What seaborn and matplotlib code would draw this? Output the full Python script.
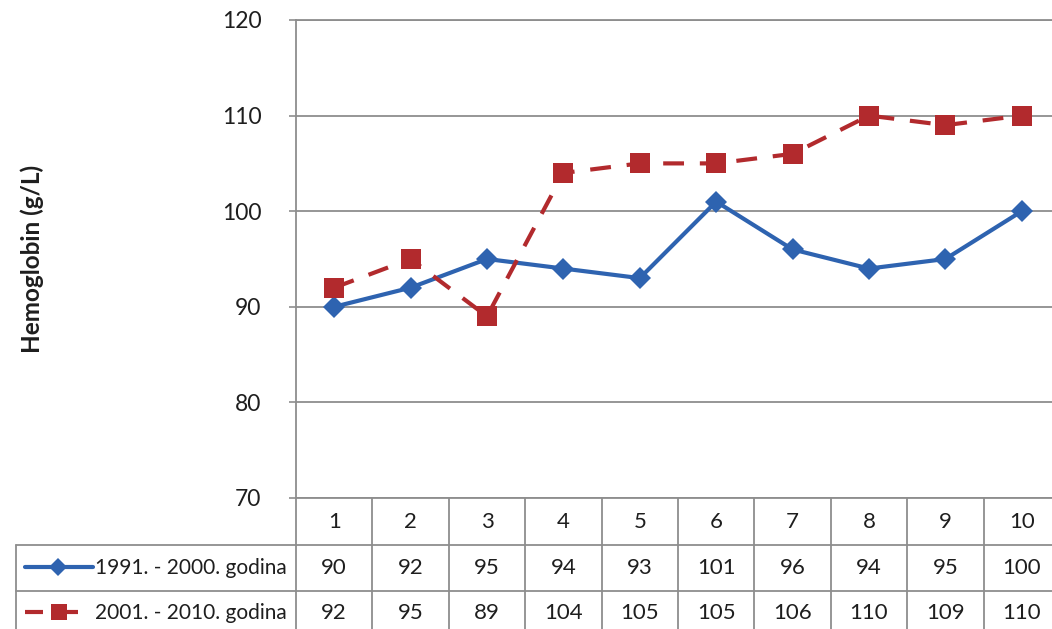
import matplotlib
matplotlib.use("Agg")
import matplotlib.pyplot as plt
import matplotlib.transforms as mtransforms
import pandas as pd
import seaborn as sns

# Data
months = [1, 2, 3, 4, 5, 6, 7, 8, 9, 10]
period_a = "1991. - 2000. godina"
period_b = "2001. - 2010. godina"
hb_a = [90, 92, 95, 94, 93, 101, 96, 94, 95, 100]
hb_b = [92, 95, 89, 104, 105, 105, 106, 110, 109, 110]
y_ticks = [70, 80, 90, 100, 110, 120]
y_label = "Hemoglobin (g/L)"

blue = "#2E63B0"
red = "#B22A2D"
grid_col = "#8E8E8E"
text_col = "#1E1E1E"

df = pd.DataFrame({
    "month": months * 2,
    "value": hb_a + hb_b,
    "period": [period_a] * len(months) + [period_b] * len(months),
})

sns.set_theme(style="white")
plt.rcParams["font.family"] = ["Lato", "DejaVu Sans"]

W, H = 1052, 629
fig = plt.figure(figsize=(W / 100, H / 100), dpi=100)
left, right, top, bottom = 296, 1060, 20, 498
ax = fig.add_axes([left / W, 1 - bottom / H, (right - left) / W, (bottom - top) / H])

sns.lineplot(
    data=df, x="month", y="value", hue="period", style="period",
    palette={period_a: blue, period_b: red},
    markers={period_a: "D", period_b: "s"},
    dashes={period_a: "", period_b: (5, 3.8)},
    linewidth=3.0, markeredgewidth=0,
    legend=False, ax=ax,
)
# marker sizes per series
for line, ms in zip(ax.get_lines(), [11.5, 14]):
    line.set_markersize(ms)
    line.set_dash_capstyle("butt")

ax.set_xlim(0.5, 10.5)
ax.set_ylim(70, 120)
ax.set_yticks(y_ticks)
ax.set_xticks([])
ax.set_xlabel("")
ax.grid(axis="y", color=grid_col, linewidth=1.3)
ax.set_axisbelow(True)
for side in ["left", "top", "bottom", "right"]:
    ax.spines[side].set_color(grid_col)
    ax.spines[side].set_linewidth(1.3)
ax.tick_params(axis="y", which="major", left=True, length=5, width=1.2,
               color=grid_col, pad=20, labelsize=16.5, labelcolor=text_col)

ax.set_ylabel(y_label, fontsize=17.5, fontweight="bold", color=text_col)
ax.yaxis.set_label_coords((44 - left) / (right - left), 0.5)

# Data table under the plot
col_tf = mtransforms.blended_transform_factory(ax.transData, ax.transAxes)
px_tf = mtransforms.Affine2D().scale(1 / W, -1 / H).translate(0, 1) + fig.transFigure


def yfrac(ypx):
    return (bottom - ypx) / (bottom - top)


line_kw = dict(color=grid_col, linewidth=1.3, clip_on=False)
table_bottom = 640
for k in range(len(months) + 1):
    xe = months[0] - 0.5 + k
    ax.plot([xe, xe], [yfrac(bottom), yfrac(table_bottom)], transform=col_tf, **line_kw)
for ypx in [545, 591]:
    fig.add_artist(plt.Line2D([16, 1060], [ypx, ypx], transform=px_tf, **line_kw))
fig.add_artist(plt.Line2D([16, 16], [545, table_bottom], transform=px_tf, **line_kw))

text_kw = dict(ha="center", va="center", fontsize=16, color=text_col,
               transform=col_tf, clip_on=False)
for m, a, b in zip(months, hb_a, hb_b):
    ax.text(m, yfrac(522), str(m), **text_kw)
    ax.text(m, yfrac(568), str(a), **text_kw)
    ax.text(m, yfrac(613), str(b), **text_kw)

# Legend keys inside the table
fig.add_artist(plt.Line2D([25, 93], [567, 567], transform=px_tf, color=blue, linewidth=3.0))
fig.add_artist(plt.Line2D([58], [567], transform=px_tf, color=blue, marker="D",
                          markersize=9, markeredgewidth=0, linestyle="none"))
fig.add_artist(plt.Line2D([25, 43], [612, 612], transform=px_tf, color=red, linewidth=3.0,
                          solid_capstyle="butt"))
fig.add_artist(plt.Line2D([60, 78], [612, 612], transform=px_tf, color=red, linewidth=3.0,
                          solid_capstyle="butt"))
fig.add_artist(plt.Line2D([59], [612], transform=px_tf, color=red, marker="s",
                          markersize=12, markeredgewidth=0, linestyle="none"))
fig.text(95 / W, 1 - 568 / H, period_a, ha="left", va="center", fontsize=15, color=text_col)
fig.text(95 / W, 1 - 613 / H, period_b, ha="left", va="center", fontsize=15, color=text_col)

fig.savefig("out.png", dpi=100)
